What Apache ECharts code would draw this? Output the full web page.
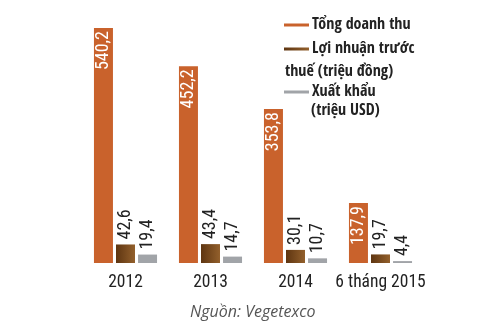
<!DOCTYPE html>
<html>
<head>
<meta charset="utf-8">
<script src="https://cdn.jsdelivr.net/npm/echarts@6/dist/echarts.min.js"></script>
<style>
  html, body { margin: 0; padding: 0; background: #fff; }
  #chart { width: 500px; height: 330px; }
</style>
</head>
<body>
<div id="chart"></div>
<script>
// Vegetexco results by year
const categories = ['2012', '2013', '2014', '6 tháng 2015'];
const revenue = [540.2, 452.2, 353.8, 137.9];   // Tổng doanh thu
const profit = [42.6, 43.4, 30.1, 19.7];        // Lợi nhuận trước thuế (triệu đồng)
const exportsUsd = [19.4, 14.7, 10.7, 4.4];     // Xuất khẩu (triệu USD)

const seriesNames = ['Tổng doanh thu', 'Lợi nhuận trước thuế (triệu đồng)', 'Xuất khẩu (triệu USD)'];
const legendFirstLines = ['Tổng doanh thu', 'Lợi nhuận trước', 'Xuất khẩu'];

const FONT = '"Roboto Condensed", "Liberation Sans Narrow", sans-serif';
const LEGEND_FONT = '"Open Sans Condensed", "Roboto Condensed", sans-serif';
const fmt = p => p.value.toFixed(1).replace('.', ',');

const ORANGE = '#c9622c';
const BROWN = new echarts.graphic.LinearGradient(0, 0, 1, 0, [
  { offset: 0, color: '#5e3511' },
  { offset: 1, color: '#93602c' }
]);
const GRAY = '#a1a4a8';

const outsideLabel = {
  show: true, position: 'top', distance: 5, rotate: 90,
  align: 'left', verticalAlign: 'middle',
  color: '#222', fontFamily: FONT, fontSize: 18, formatter: fmt
};

const chart = echarts.init(document.getElementById('chart'), null, { renderer: 'canvas' });

function legendAt(name, top) {
  return {
    data: [name], left: 284, top: top, orient: 'vertical',
    icon: 'rect', itemWidth: 25, itemHeight: 3, itemGap: 0, padding: 0,
    selectedMode: false,
    formatter: n => legendFirstLines[seriesNames.indexOf(n)],
    textStyle: { fontFamily: LEGEND_FONT, fontSize: 16, fontWeight: 'normal', color: '#222', padding: [0, 0, 0, -2] }
  };
}

chart.setOption({
  animation: false,
  grid: { left: 83, right: 77, top: 2, bottom: 67 },
  legend: [
    legendAt(seriesNames[0], 17),
    legendAt(seriesNames[1], 41),
    legendAt(seriesNames[2], 84)
  ],
  graphic: [
    { type: 'text', left: 285, top: 64, style: { text: 'thuế (triệu đồng)', font: '16px ' + LEGEND_FONT, fill: '#222' } },
    { type: 'text', left: 311, top: 103, style: { text: '(triệu USD)', font: '16px ' + LEGEND_FONT, fill: '#222' } },
    { type: 'text', left: 190, top: 304, style: { text: 'Nguồn: Vegetexco', font: 'italic 16px "Open Sans", sans-serif', fill: '#555' } }
  ],
  xAxis: {
    type: 'category', data: categories,
    axisLine: { show: false }, axisTick: { show: false },
    axisLabel: { interval: 0, margin: 11, fontFamily: FONT, fontSize: 17.5, color: '#222' }
  },
  yAxis: {
    type: 'value', min: 0, max: 600,
    show: false, splitLine: { show: false }
  },
  series: [
    {
      name: seriesNames[0], type: 'bar', data: revenue, barWidth: 19, barGap: '16%',
      itemStyle: { color: ORANGE },
      label: {
        show: true, position: 'insideTop', distance: 3, rotate: 90,
        align: 'right', verticalAlign: 'middle',
        color: '#fff', fontFamily: FONT, fontSize: 18, formatter: fmt
      }
    },
    {
      name: seriesNames[1], type: 'bar', data: profit, barWidth: 19, barGap: '16%',
      itemStyle: { color: BROWN },
      label: outsideLabel
    },
    {
      name: seriesNames[2], type: 'bar', data: exportsUsd, barWidth: 19, barGap: '16%',
      itemStyle: { color: GRAY },
      label: outsideLabel
    }
  ]
});
</script>
</body>
</html>
